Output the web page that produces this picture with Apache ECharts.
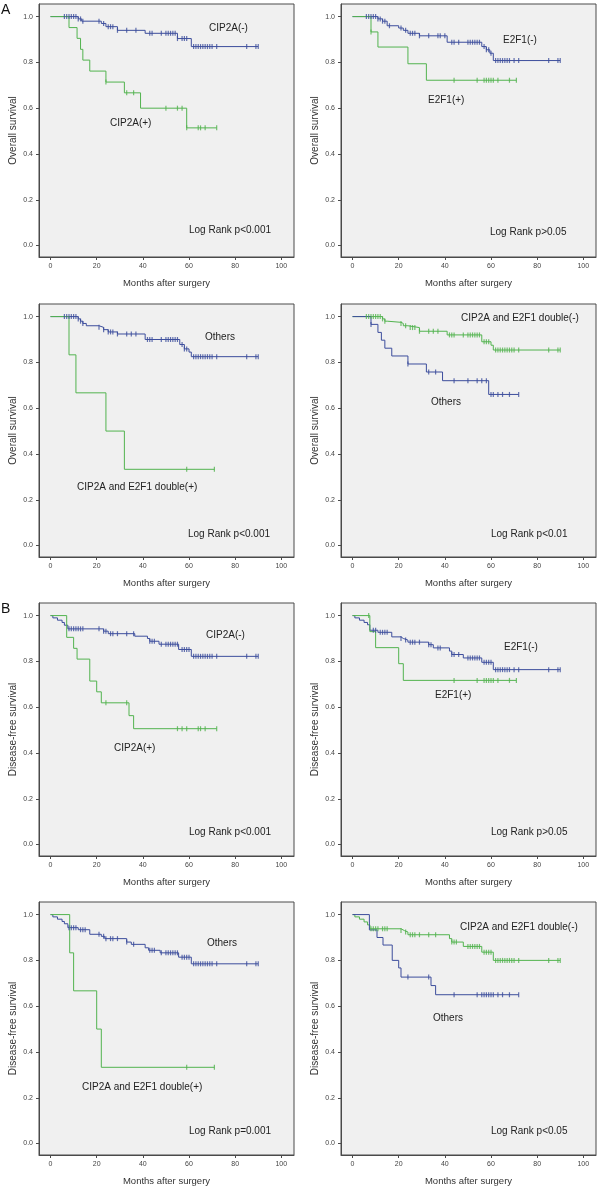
<!DOCTYPE html>
<html><head><meta charset="utf-8">
<script src="https://cdn.jsdelivr.net/npm/echarts@6/dist/echarts.min.js"></script>
<style>html,body{margin:0;padding:0;background:#fff}#c{width:600px;height:1191px}</style>
</head><body><div id="c"></div><script>
// ---------- DATA (Kaplan-Meier steps: event times, survival after event, censor times) ----------
const xTicks = [0, 20, 40, 60, 80, 100];
const yTicks = [0, 0.2, 0.4, 0.6, 0.8, 1.0];

// Panel 1: OS by CIP2A
const os_cip2aNeg_t = [12, 13.5, 22, 24, 29, 41, 55, 61];
const os_cip2aNeg_s = [0.99, 0.98, 0.97, 0.956, 0.94, 0.927, 0.904, 0.869];
const os_cip2aNeg_c = [6,7,8,9,10,11,12,13,14,21,23,25,26,27,29,33,37,43,44,48,50,51,52,53,54,55,57,58,59,62,63,64,65,66,67,68,69,70,72,85,89,90];
const os_cip2aPos_t = [8, 11.5, 13, 14, 17, 24, 32, 39, 59];
const os_cip2aPos_s = [0.952, 0.905, 0.857, 0.81, 0.762, 0.714, 0.667, 0.6, 0.514];
const os_cip2aPos_c = [24, 33, 36, 50, 55, 57, 59, 64, 65, 67, 72];

// Panel 2: OS by E2F1
const os_e2f1Neg_t = [11, 13, 15, 20, 22, 24, 29, 41, 56, 58, 59.5, 61];
const os_e2f1Neg_s = [0.99, 0.98, 0.96, 0.95, 0.94, 0.927, 0.916, 0.888, 0.869, 0.855, 0.84, 0.808];
const os_e2f1Neg_c = [6,7,8,9,10,11,12,13,14,16,21,23,25,26,27,29,33,37,38,40,43,44,46,50,51,52,53,54,55,57,58,59,60,62,63,64,65,66,67,68,70,72,85,89,90];
const os_e2f1Pos_t = [8, 11, 24, 32];
const os_e2f1Pos_s = [0.933, 0.867, 0.794, 0.722];
const os_e2f1Pos_c = [8, 44, 54, 57, 58, 59, 60, 61, 63, 68, 71];

// Panel 3: OS double(+) vs others
const os_others3_t = [12, 13, 14, 15.5, 21, 23, 25, 29, 41, 56, 58, 60, 61];
const os_others3_s = [0.99, 0.98, 0.97, 0.96, 0.953, 0.943, 0.933, 0.924, 0.9, 0.878, 0.859, 0.845, 0.825];
const os_others3_c = [6,7,8,9,10,11,12,13,14,21,23,25,26,27,29,33,35,37,42,43,44,48,50,51,52,53,54,55,57,58,59,62,63,64,65,66,67,68,69,70,72,85,89,90];
const os_dblPos_t = [8, 11, 24, 32];
const os_dblPos_s = [0.833, 0.667, 0.5, 0.333];
const os_dblPos_c = [59, 71];

// Panel 4: OS double(-) vs others
const os_dblNeg_t = [13, 14, 15, 21, 22, 24, 29, 41, 56, 60, 61];
const os_dblNeg_s = [0.99, 0.98, 0.975, 0.97, 0.96, 0.952, 0.936, 0.92, 0.89, 0.875, 0.854];
const os_dblNeg_c = [6,7,8,9,10,11,12,13,14,21,23,25,26,27,29,33,35,37,42,43,44,48,50,51,52,53,54,55,57,58,59,62,63,64,65,66,67,68,69,70,72,85,89,90];
const os_others4_t = [8, 11, 12.5, 14, 17, 24, 32, 39, 59];
const os_others4_s = [0.966, 0.931, 0.897, 0.862, 0.828, 0.793, 0.758, 0.72, 0.66];
const os_others4_c = [8, 24, 33, 36, 44, 50, 54, 56, 58, 60, 61, 63, 65, 68, 72];

// Panel 5: DFS by CIP2A
const dfs_cip2aNeg_t = [1, 3, 5, 6, 7.5, 23, 25, 36.5, 42, 43, 47, 55.5, 61];
const dfs_cip2aNeg_s = [0.99, 0.98, 0.97, 0.958, 0.942, 0.932, 0.921, 0.91, 0.9, 0.888, 0.875, 0.852, 0.822];
const dfs_cip2aNeg_c = [8,9,10,11,12,13,14,21,23,24,26,27,29,33,36,43,44,45,48,50,51,52,53,54,55,57,58,59,60,62,63,64,65,66,67,68,69,70,72,85,89,90];
const dfs_cip2aPos_t = [7, 10, 11.5, 17, 20, 22, 34, 36];
const dfs_cip2aPos_s = [0.905, 0.857, 0.81, 0.714, 0.667, 0.619, 0.563, 0.506];
const dfs_cip2aPos_c = [24, 33, 55, 57, 59, 64, 65, 67, 72];

// Panel 6: DFS by E2F1
const dfs_e2f1Neg_t = [1, 3, 5, 6.5, 7.5, 11, 17, 21, 22, 24, 33, 35, 42, 43, 48, 56, 61];
const dfs_e2f1Neg_s = [0.99, 0.98, 0.97, 0.96, 0.936, 0.927, 0.907, 0.9, 0.893, 0.884, 0.873, 0.859, 0.845, 0.83, 0.815, 0.796, 0.764];
const dfs_e2f1Neg_c = [9,10,12,13,14,15,21,23,25,26,27,29,33,34,37,38,43,44,46,50,51,52,53,54,55,57,58,59,60,62,63,64,65,66,67,68,70,72,85,89,90];
const dfs_e2f1Pos_t = [7.5, 10, 20, 22];
const dfs_e2f1Pos_s = [0.93, 0.86, 0.79, 0.717];
const dfs_e2f1Pos_c = [7, 44, 54, 57, 58, 59, 60, 61, 63, 68, 71];

// Panel 7: DFS double(+) vs others
const dfs_others7_t = [1, 3, 5, 6, 7.5, 12, 17, 22, 23.5, 33, 35, 41, 42.5, 47.5, 55.5, 61];
const dfs_others7_s = [0.99, 0.98, 0.97, 0.96, 0.943, 0.934, 0.914, 0.905, 0.895, 0.88, 0.87, 0.855, 0.844, 0.833, 0.814, 0.785];
const dfs_others7_c = [8,9,10,11,13,14,15,21,23,24,26,27,29,33,36,43,44,45,48,50,51,52,53,54,55,57,58,59,60,62,63,64,65,66,67,68,69,70,72,85,89,90];
const dfs_dblPos_t = [8.3, 10, 20, 22];
const dfs_dblPos_s = [0.833, 0.667, 0.5, 0.333];
const dfs_dblPos_c = [59, 71];

// Panel 8: DFS double(-) vs others
const dfs_dblNeg_t = [1, 3, 5, 6.5, 7.5, 21, 22.5, 24, 42, 43, 48, 56, 61];
const dfs_dblNeg_s = [0.99, 0.98, 0.968, 0.955, 0.938, 0.93, 0.924, 0.912, 0.895, 0.88, 0.861, 0.836, 0.8];
const dfs_dblNeg_c = [8,9,10,11,13,14,15,21,23,25,26,27,29,33,36,43,44,45,50,51,52,53,54,55,57,58,59,60,62,63,64,65,66,67,68,69,70,72,85,89,90];
const dfs_others8_t = [7.3, 10.6, 13.2, 17.2, 20, 21, 34, 36];
const dfs_others8_s = [0.933, 0.9, 0.867, 0.8, 0.767, 0.727, 0.69, 0.65];
const dfs_others8_c = [24, 33, 44, 54, 56, 57, 58, 59, 60, 61, 63, 65, 68, 72];

// ---------- LAYOUT / STYLE ----------
const BLUE = '#3c4d9c', GREEN = '#52b34f';
const FONT = 'Liberation Sans';
const colLeft = [39, 341], rowTop = [4, 304, 603, 902], boxW = 255, boxH = 253;

const panels = [
  {col:0,row:0,ytitle:'Overall survival',curves:[[os_cip2aNeg_t,os_cip2aNeg_s,os_cip2aNeg_c,BLUE],[os_cip2aPos_t,os_cip2aPos_s,os_cip2aPos_c,GREEN]],
   texts:[['CIP2A(-)',209,28],['CIP2A(+)',110,123],['Log Rank p<0.001',189,230]]},
  {col:1,row:0,ytitle:'Overall survival',curves:[[os_e2f1Neg_t,os_e2f1Neg_s,os_e2f1Neg_c,BLUE],[os_e2f1Pos_t,os_e2f1Pos_s,os_e2f1Pos_c,GREEN]],
   texts:[['E2F1(-)',503,40],['E2F1(+)',428,100],['Log Rank p>0.05',490,232]]},
  {col:0,row:1,ytitle:'Overall survival',curves:[[os_others3_t,os_others3_s,os_others3_c,BLUE],[os_dblPos_t,os_dblPos_s,os_dblPos_c,GREEN]],
   texts:[['Others',205,337],['CIP2A and E2F1 double(+)',77,487],['Log Rank p<0.001',188,534]]},
  {col:1,row:1,ytitle:'Overall survival',curves:[[os_dblNeg_t,os_dblNeg_s,os_dblNeg_c,GREEN],[os_others4_t,os_others4_s,os_others4_c,BLUE]],
   texts:[['CIP2A and E2F1 double(-)',461,318],['Others',431,402],['Log Rank p<0.01',491,534]]},
  {col:0,row:2,ytitle:'Disease-free survival',curves:[[dfs_cip2aNeg_t,dfs_cip2aNeg_s,dfs_cip2aNeg_c,BLUE],[dfs_cip2aPos_t,dfs_cip2aPos_s,dfs_cip2aPos_c,GREEN]],
   texts:[['CIP2A(-)',206,635],['CIP2A(+)',114,748],['Log Rank p<0.001',189,832]]},
  {col:1,row:2,ytitle:'Disease-free survival',curves:[[dfs_e2f1Neg_t,dfs_e2f1Neg_s,dfs_e2f1Neg_c,BLUE],[dfs_e2f1Pos_t,dfs_e2f1Pos_s,dfs_e2f1Pos_c,GREEN]],
   texts:[['E2F1(-)',504,647],['E2F1(+)',435,695],['Log Rank p>0.05',491,832]]},
  {col:0,row:3,ytitle:'Disease-free survival',curves:[[dfs_others7_t,dfs_others7_s,dfs_others7_c,BLUE],[dfs_dblPos_t,dfs_dblPos_s,dfs_dblPos_c,GREEN]],
   texts:[['Others',207,943],['CIP2A and E2F1 double(+)',82,1087],['Log Rank p=0.001',189,1131]]},
  {col:1,row:3,ytitle:'Disease-free survival',curves:[[dfs_dblNeg_t,dfs_dblNeg_s,dfs_dblNeg_c,GREEN],[dfs_others8_t,dfs_others8_s,dfs_others8_c,BLUE]],
   texts:[['CIP2A and E2F1 double(-)',460,927],['Others',433,1018],['Log Rank p<0.05',491,1131]]}
];

function survAt(ts, ss, t) { let s = 1; for (let i = 0; i < ts.length; i++) if (ts[i] <= t) s = ss[i]; return s; }
function kmLine(ts, ss, cs) {
  const end = Math.max(...cs, ts[ts.length - 1]);
  const d = [[0, 1]];
  ts.forEach((t, i) => d.push([t, ss[i]]));
  d.push([end, ss[ss.length - 1]]);
  return d;
}

const grid = [], xAxis = [], yAxis = [], series = [], graphic = [];
panels.forEach((p, i) => {
  grid.push({left: colLeft[p.col], top: rowTop[p.row], width: boxW, height: boxH, show: true,
    backgroundColor: '#f0f0f0', borderColor: '#4a4a4a', borderWidth: 1});
  xAxis.push({gridIndex: i, type: 'value', min: -5, max: 105.5, position: 'bottom',
    name: 'Months after surgery', nameLocation: 'middle', nameGap: 21,
    nameTextStyle: {fontFamily: FONT, fontSize: 9.5, color: '#333'},
    axisLine: {show: true, onZero: false, lineStyle: {color: '#4a4a4a', width: 1}},
    axisTick: {show: true, length: 3, customValues: xTicks, lineStyle: {color: '#4a4a4a'}},
    axisLabel: {customValues: xTicks, fontFamily: FONT, fontSize: 7, color: '#444', margin: 6},
    splitLine: {show: false}});
  yAxis.push({gridIndex: i, type: 'value', min: -0.05, max: 1.055, position: 'left',
    name: p.ytitle, nameLocation: 'middle', nameGap: 21,
    nameTextStyle: {fontFamily: FONT, fontSize: 10, color: '#333'},
    axisLine: {show: true, onZero: false, lineStyle: {color: '#4a4a4a', width: 1}},
    axisTick: {show: true, length: 3, customValues: yTicks, lineStyle: {color: '#4a4a4a'}},
    axisLabel: {customValues: yTicks, fontFamily: FONT, fontSize: 7, color: '#444', margin: 6,
      formatter: v => v.toFixed(1)},
    splitLine: {show: false}});
  p.curves.forEach(([ts, ss, cs, col]) => {
    series.push({type: 'line', xAxisIndex: i, yAxisIndex: i, step: 'end', symbol: 'none',
      data: kmLine(ts, ss, cs), lineStyle: {color: col, width: 1}, silent: true, z: 2});
    series.push({type: 'scatter', xAxisIndex: i, yAxisIndex: i, symbol: 'rect', symbolSize: [1.2, 5],
      data: cs.map(t => [t, survAt(ts, ss, t)]), itemStyle: {color: col}, silent: true, z: 3});
  });
  p.texts.forEach(([txt, x, y]) => {
    graphic.push({type: 'text', x: x, y: y, silent: true, z: 10,
      style: {text: txt, fontFamily: FONT, fontSize: 10, fill: '#222', verticalAlign: 'middle', align: 'left'}});
  });
});
graphic.push({type: 'text', x: 1, y: 10, style: {text: 'A', fontFamily: FONT, fontSize: 14, fill: '#111', verticalAlign: 'middle'}});
graphic.push({type: 'text', x: 1, y: 609, style: {text: 'B', fontFamily: FONT, fontSize: 14, fill: '#111', verticalAlign: 'middle'}});

const chart = echarts.init(document.getElementById('c'), null, {renderer: 'canvas'});
chart.setOption({animation: false, backgroundColor: '#fff', grid, xAxis, yAxis, series, graphic});
</script></body></html>
